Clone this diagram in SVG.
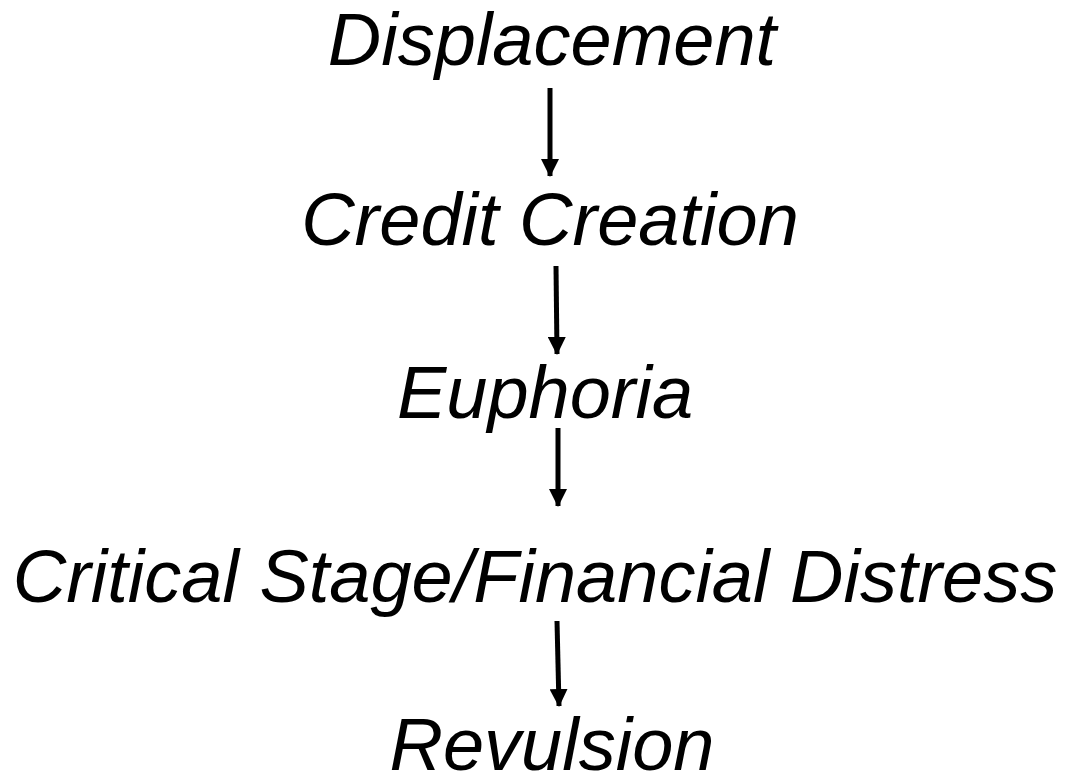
<svg xmlns="http://www.w3.org/2000/svg" width="1079" height="784" viewBox="0 0 1079 784">
<style>
.t{font-family:"Liberation Sans",Arial,sans-serif;font-style:italic;font-size:74px;fill:#000;text-anchor:middle}
.c{stroke:#000;stroke-width:5;fill:none;marker-end:url(#ah)}
</style>
<defs>
<marker id="ah" viewBox="0 0 18 18" refX="17" refY="9" markerUnits="userSpaceOnUse" markerWidth="18" markerHeight="18" orient="auto">
<path d="M0,0 L18,9 L0,18 z" fill="#000"/>
</marker>
</defs>
<rect width="1079" height="784" fill="#fff"/>
<g id="n1"><text class="t" x="552" y="65">Displacement</text></g>
<g id="n2"><text class="t" x="550" y="245">Credit Creation</text></g>
<g id="n3"><text class="t" x="545" y="418">Euphoria</text></g>
<g id="n4"><text class="t" x="535" y="602">Critical Stage/Financial Distress</text></g>
<g id="n5"><text class="t" x="552" y="770">Revulsion</text></g>
<g id="connectors">
<line class="c" x1="550" y1="88" x2="550" y2="176"/>
<line class="c" x1="556" y1="266" x2="557" y2="354"/>
<line class="c" x1="558" y1="428" x2="558" y2="506"/>
<line class="c" x1="557" y1="621" x2="559" y2="706"/>
</g>
</svg>
